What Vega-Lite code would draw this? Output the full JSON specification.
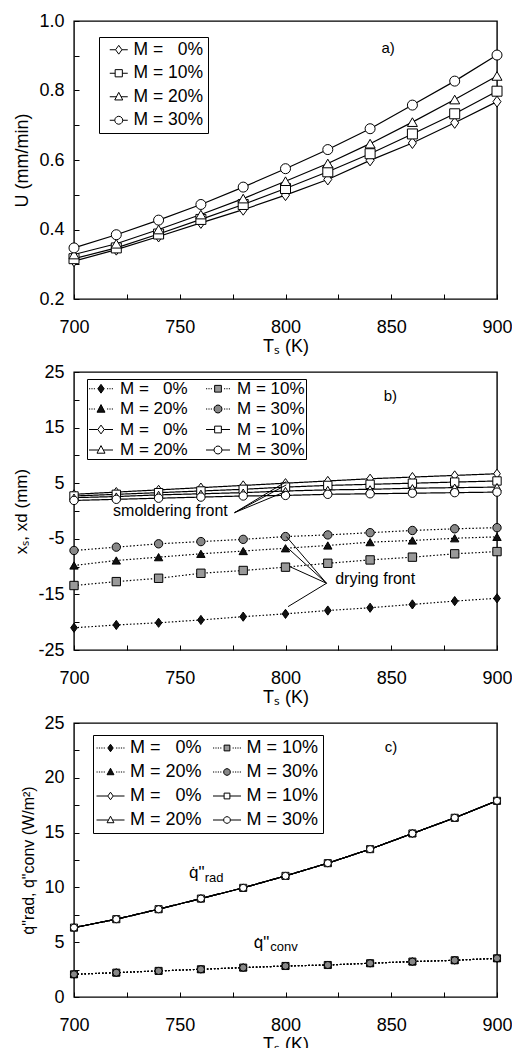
{
"$schema":"https://vega.github.io/schema/vega-lite/v6.json",
"background":"white",
"padding":{"left":12,"top":11,"right":0,"bottom":0},
"spacing":6,
"resolve":{"scale":{"shape":"independent","fill":"independent","strokeDash":"independent","x":"independent","y":"independent"},"legend":{"shape":"independent","fill":"independent","strokeDash":"independent"}},
"config":{
 "font":"Liberation Sans",
 "view":{"stroke":"black","strokeWidth":1.4},
 "axis":{"grid":false,"domain":false,"ticks":true,"tickColor":"black","tickWidth":1,"tickSize":-5,"labelColor":"black","titleColor":"black","labelFontSize":18,"titleFontSize":18,"titleFontWeight":"normal","labelOverlap":false,"labelFlush":false,"labelFont":"Liberation Sans","titleFont":"Liberation Sans"},
 "axisX":{"labelPadding":24,"titlePadding":1},
 "axisY":{"labelPadding":15,"titlePadding":7},
 "legend":{"labelColor":"black","labelFont":"Liberation Sans","strokeColor":"black","fillColor":"white","symbolOpacity":1,"symbolStrokeWidth":1}
},
"datasets":{
 "a":[
  {"T":700,"s":"0%","v":0.309},{"T":720,"s":"0%","v":0.342},{"T":740,"s":"0%","v":0.380},{"T":760,"s":"0%","v":0.419},{"T":780,"s":"0%","v":0.457},{"T":800,"s":"0%","v":0.499},{"T":820,"s":"0%","v":0.544},{"T":840,"s":"0%","v":0.599},{"T":860,"s":"0%","v":0.649},{"T":880,"s":"0%","v":0.707},{"T":900,"s":"0%","v":0.768},
  {"T":700,"s":"10%","v":0.316},{"T":720,"s":"10%","v":0.347},{"T":740,"s":"10%","v":0.387},{"T":760,"s":"10%","v":0.429},{"T":780,"s":"10%","v":0.472},{"T":800,"s":"10%","v":0.518},{"T":820,"s":"10%","v":0.566},{"T":840,"s":"10%","v":0.618},{"T":860,"s":"10%","v":0.675},{"T":880,"s":"10%","v":0.733},{"T":900,"s":"10%","v":0.798},
  {"T":700,"s":"20%","v":0.328},{"T":720,"s":"20%","v":0.359},{"T":740,"s":"20%","v":0.400},{"T":760,"s":"20%","v":0.443},{"T":780,"s":"20%","v":0.489},{"T":800,"s":"20%","v":0.539},{"T":820,"s":"20%","v":0.590},{"T":840,"s":"20%","v":0.647},{"T":860,"s":"20%","v":0.709},{"T":880,"s":"20%","v":0.774},{"T":900,"s":"20%","v":0.842},
  {"T":700,"s":"30%","v":0.347},{"T":720,"s":"30%","v":0.385},{"T":740,"s":"30%","v":0.427},{"T":760,"s":"30%","v":0.472},{"T":780,"s":"30%","v":0.522},{"T":800,"s":"30%","v":0.575},{"T":820,"s":"30%","v":0.630},{"T":840,"s":"30%","v":0.690},{"T":860,"s":"30%","v":0.758},{"T":880,"s":"30%","v":0.827},{"T":900,"s":"30%","v":0.902}
 ],
 "b":[
  {"T":700,"s":"d0","v":-21.0},{"T":720,"s":"d0","v":-20.5},{"T":740,"s":"d0","v":-20.1},{"T":760,"s":"d0","v":-19.6},{"T":780,"s":"d0","v":-19.0},{"T":800,"s":"d0","v":-18.5},{"T":820,"s":"d0","v":-17.9},{"T":840,"s":"d0","v":-17.4},{"T":860,"s":"d0","v":-16.8},{"T":880,"s":"d0","v":-16.2},{"T":900,"s":"d0","v":-15.7},
  {"T":700,"s":"d10","v":-13.4},{"T":720,"s":"d10","v":-12.7},{"T":740,"s":"d10","v":-12.1},{"T":760,"s":"d10","v":-11.2},{"T":780,"s":"d10","v":-10.7},{"T":800,"s":"d10","v":-10.1},{"T":820,"s":"d10","v":-9.4},{"T":840,"s":"d10","v":-8.8},{"T":860,"s":"d10","v":-8.3},{"T":880,"s":"d10","v":-7.7},{"T":900,"s":"d10","v":-7.3},
  {"T":700,"s":"d20","v":-9.8},{"T":720,"s":"d20","v":-8.9},{"T":740,"s":"d20","v":-8.3},{"T":760,"s":"d20","v":-7.7},{"T":780,"s":"d20","v":-7.2},{"T":800,"s":"d20","v":-6.7},{"T":820,"s":"d20","v":-6.2},{"T":840,"s":"d20","v":-5.6},{"T":860,"s":"d20","v":-5.3},{"T":880,"s":"d20","v":-4.9},{"T":900,"s":"d20","v":-4.65},
  {"T":700,"s":"d30","v":-7.1},{"T":720,"s":"d30","v":-6.5},{"T":740,"s":"d30","v":-5.9},{"T":760,"s":"d30","v":-5.5},{"T":780,"s":"d30","v":-5.1},{"T":800,"s":"d30","v":-4.6},{"T":820,"s":"d30","v":-4.3},{"T":840,"s":"d30","v":-3.9},{"T":860,"s":"d30","v":-3.5},{"T":880,"s":"d30","v":-3.2},{"T":900,"s":"d30","v":-3.0},
  {"T":700,"s":"s0","v":3.0},{"T":720,"s":"s0","v":3.4},{"T":740,"s":"s0","v":3.8},{"T":760,"s":"s0","v":4.2},{"T":780,"s":"s0","v":4.6},{"T":800,"s":"s0","v":5.0},{"T":820,"s":"s0","v":5.4},{"T":840,"s":"s0","v":5.8},{"T":860,"s":"s0","v":6.1},{"T":880,"s":"s0","v":6.4},{"T":900,"s":"s0","v":6.7},
  {"T":700,"s":"s10","v":2.7},{"T":720,"s":"s10","v":3.0},{"T":740,"s":"s10","v":3.3},{"T":760,"s":"s10","v":3.6},{"T":780,"s":"s10","v":3.9},{"T":800,"s":"s10","v":4.3},{"T":820,"s":"s10","v":4.6},{"T":840,"s":"s10","v":4.8},{"T":860,"s":"s10","v":5.0},{"T":880,"s":"s10","v":5.2},{"T":900,"s":"s10","v":5.4},
  {"T":700,"s":"s20","v":2.4},{"T":720,"s":"s20","v":2.6},{"T":740,"s":"s20","v":2.9},{"T":760,"s":"s20","v":3.1},{"T":780,"s":"s20","v":3.3},{"T":800,"s":"s20","v":3.6},{"T":820,"s":"s20","v":3.8},{"T":840,"s":"s20","v":3.9},{"T":860,"s":"s20","v":4.1},{"T":880,"s":"s20","v":4.2},{"T":900,"s":"s20","v":4.3},
  {"T":700,"s":"s30","v":1.9},{"T":720,"s":"s30","v":2.1},{"T":740,"s":"s30","v":2.3},{"T":760,"s":"s30","v":2.5},{"T":780,"s":"s30","v":2.7},{"T":800,"s":"s30","v":2.8},{"T":820,"s":"s30","v":3.0},{"T":840,"s":"s30","v":3.1},{"T":860,"s":"s30","v":3.2},{"T":880,"s":"s30","v":3.3},{"T":900,"s":"s30","v":3.4}
 ],
 "c":[
  {"T":700,"s":"d0","v":2.07},{"T":720,"s":"d0","v":2.22},{"T":740,"s":"d0","v":2.38},{"T":760,"s":"d0","v":2.53},{"T":780,"s":"d0","v":2.68},{"T":800,"s":"d0","v":2.83},{"T":820,"s":"d0","v":2.92},{"T":840,"s":"d0","v":3.08},{"T":860,"s":"d0","v":3.23},{"T":880,"s":"d0","v":3.35},{"T":900,"s":"d0","v":3.53},
  {"T":700,"s":"d10","v":2.07},{"T":720,"s":"d10","v":2.22},{"T":740,"s":"d10","v":2.38},{"T":760,"s":"d10","v":2.53},{"T":780,"s":"d10","v":2.68},{"T":800,"s":"d10","v":2.83},{"T":820,"s":"d10","v":2.92},{"T":840,"s":"d10","v":3.08},{"T":860,"s":"d10","v":3.23},{"T":880,"s":"d10","v":3.35},{"T":900,"s":"d10","v":3.53},
  {"T":700,"s":"d20","v":2.07},{"T":720,"s":"d20","v":2.22},{"T":740,"s":"d20","v":2.38},{"T":760,"s":"d20","v":2.53},{"T":780,"s":"d20","v":2.68},{"T":800,"s":"d20","v":2.83},{"T":820,"s":"d20","v":2.92},{"T":840,"s":"d20","v":3.08},{"T":860,"s":"d20","v":3.23},{"T":880,"s":"d20","v":3.35},{"T":900,"s":"d20","v":3.53},
  {"T":700,"s":"d30","v":2.07},{"T":720,"s":"d30","v":2.22},{"T":740,"s":"d30","v":2.38},{"T":760,"s":"d30","v":2.53},{"T":780,"s":"d30","v":2.68},{"T":800,"s":"d30","v":2.83},{"T":820,"s":"d30","v":2.92},{"T":840,"s":"d30","v":3.08},{"T":860,"s":"d30","v":3.23},{"T":880,"s":"d30","v":3.35},{"T":900,"s":"d30","v":3.53},
  {"T":700,"s":"s0","v":6.33},{"T":720,"s":"s0","v":7.10},{"T":740,"s":"s0","v":8.01},{"T":760,"s":"s0","v":8.98},{"T":780,"s":"s0","v":9.96},{"T":800,"s":"s0","v":11.05},{"T":820,"s":"s0","v":12.21},{"T":840,"s":"s0","v":13.49},{"T":860,"s":"s0","v":14.92},{"T":880,"s":"s0","v":16.35},{"T":900,"s":"s0","v":17.9},
  {"T":700,"s":"s10","v":6.33},{"T":720,"s":"s10","v":7.10},{"T":740,"s":"s10","v":8.01},{"T":760,"s":"s10","v":8.98},{"T":780,"s":"s10","v":9.96},{"T":800,"s":"s10","v":11.05},{"T":820,"s":"s10","v":12.21},{"T":840,"s":"s10","v":13.49},{"T":860,"s":"s10","v":14.92},{"T":880,"s":"s10","v":16.35},{"T":900,"s":"s10","v":17.9},
  {"T":700,"s":"s20","v":6.33},{"T":720,"s":"s20","v":7.10},{"T":740,"s":"s20","v":8.01},{"T":760,"s":"s20","v":8.98},{"T":780,"s":"s20","v":9.96},{"T":800,"s":"s20","v":11.05},{"T":820,"s":"s20","v":12.21},{"T":840,"s":"s20","v":13.49},{"T":860,"s":"s20","v":14.92},{"T":880,"s":"s20","v":16.35},{"T":900,"s":"s20","v":17.9},
  {"T":700,"s":"s30","v":6.33},{"T":720,"s":"s30","v":7.10},{"T":740,"s":"s30","v":8.01},{"T":760,"s":"s30","v":8.98},{"T":780,"s":"s30","v":9.96},{"T":800,"s":"s30","v":11.05},{"T":820,"s":"s30","v":12.21},{"T":840,"s":"s30","v":13.49},{"T":860,"s":"s30","v":14.92},{"T":880,"s":"s30","v":16.35},{"T":900,"s":"s30","v":17.9}
 ],
 "tagA":[{"T":848.5,"v":0.922,"label":"a)"}],
 "tagB":[{"T":849.6,"v":20.7,"label":"b)"}],
 "tagC":[{"T":849.9,"v":22.8,"label":"c)"}],
 "annB":[{"T":745.6,"v":0.0,"label":"smoldering front"},{"T":842.4,"v":-12.2,"label":"drying front"}],
 "arrB":[
  {"T":775.9,"v":-0.3,"T2":800.4,"v2":5.3},{"T":775.9,"v":-0.3,"T2":800.4,"v2":4.7},{"T":775.9,"v":-0.3,"T2":800.0,"v2":3.5},
  {"T":819.4,"v":-13.0,"T2":800.4,"v2":-4.6},{"T":819.4,"v":-13.0,"T2":801.2,"v2":-6.7},{"T":819.4,"v":-13.0,"T2":802.0,"v2":-10.0},{"T":819.4,"v":-13.0,"T2":801.2,"v2":-17.2}
 ],
 "annC":[
  {"T":754.4,"v":10.88,"label":"q\u0307\"","part":"main"},{"T":761.8,"v":10.52,"label":"rad","part":"sub"},
  {"T":785.0,"v":4.44,"label":"q\u0307\"","part":"main"},{"T":792.8,"v":4.20,"label":"conv","part":"sub"}
 ]
},
"vconcat":[
 {
  "width":423,"height":278,
  "resolve":{"scale":{"shape":"independent"},"legend":{"shape":"independent"}},
  "encoding":{
   "x":{"field":"T","type":"quantitative","scale":{"domain":[700,900],"nice":false,"zero":false},"axis":{"title":"T\u209b (K)","values":[700,725,750,775,800,825,850,875,900],"labelExpr":"datum.value % 50 == 0 ? '' + datum.value : ''"}},
   "y":{"field":"v","type":"quantitative","scale":{"domain":[0.2,1.0],"nice":false,"zero":false},"axis":{"title":"U (mm/min)","values":[0.2,0.3,0.4,0.5,0.6,0.7,0.8,0.9,1.0],"labelExpr":"round(datum.value*10) % 2 == 0 ? format(datum.value, '.1f') : ''"}}
  },
  "layer":[
   {"data":{"name":"a"},"mark":{"type":"line","color":"black","strokeWidth":1.2},"encoding":{"detail":{"field":"s"}}},
   {"data":{"name":"a"},"mark":{"type":"point","filled":true,"fill":"white","stroke":"black","strokeWidth":1,"size":100,"opacity":1},
    "encoding":{"shape":{"field":"s","type":"nominal","scale":{"domain":["30%","20%","10%","0%"],"range":["circle","triangle-up","square","M0,-1.1L0.8,0L0,1.1L-0.8,0Z"]},"legend":null}}},
   {"data":{"name":"a"},"mark":{"type":"point","filled":true,"fill":"white","stroke":"black","strokeWidth":1,"size":256,"opacity":0},
    "encoding":{"shape":{"field":"s","type":"nominal","scale":{"domain":["0%","10%","20%","30%"],"range":[
      "M-1.125,0H-0.4M0.4,0H1.125M0,-0.55L0.4,0L0,0.55L-0.4,0Z",
      "M-1.125,0H-0.45M0.45,0H1.125M-0.45,-0.45H0.45V0.45H-0.45Z",
      "M-1.125,0H-0.29M0.29,0H1.125M0,-0.55L0.5,0.4L-0.5,0.4Z",
      "M-1.125,0H-0.5M0.5,0H1.125M0.5,0L0.433,0.25L0.25,0.433L0,0.5L-0.25,0.433L-0.433,0.25L-0.5,0L-0.433,-0.25L-0.25,-0.433L0,-0.5L0.25,-0.433L0.433,-0.25Z"]},
     "legend":{"title":null,"orient":"none","legendX":25,"legendY":16,"padding":4,"rowPadding":4.5,"labelOffset":6,"symbolOffset":7,"labelFontSize":17.5,"symbolSize":256,"symbolOpacity":1,"symbolStrokeWidth":1,
      "labelExpr":"datum.value=='0%' ? 'M = \u20070%' : 'M = ' + datum.value"}}}},
   {"data":{"name":"tagA"},"mark":{"type":"text","fontSize":15,"align":"center","baseline":"middle","color":"black"},"encoding":{"text":{"field":"label"}}}
  ]
 },
 {
  "width":423,"height":278,
  "resolve":{"scale":{"shape":"independent","fill":"independent"},"legend":{"shape":"independent","fill":"independent"}},
  "encoding":{
   "x":{"field":"T","type":"quantitative","scale":{"domain":[700,900],"nice":false,"zero":false},"axis":{"title":"T\u209b (K)","values":[700,725,750,775,800,825,850,875,900],"labelExpr":"datum.value % 50 == 0 ? '' + datum.value : ''"}},
   "y":{"field":"v","type":"quantitative","scale":{"domain":[-25,25],"nice":false,"zero":false},"axis":{"title":"x\u209b, xd (mm)","titleFontSize":17,"values":[-25,-20,-15,-10,-5,0,5,10,15,20,25],"labelExpr":"(datum.value + 25) % 10 == 0 ? '' + datum.value : ''"}}
  },
  "layer":[
   {"data":{"name":"b"},"mark":{"type":"line","color":"black","strokeWidth":1.2},"encoding":{"detail":{"field":"s"},"strokeDash":{"field":"s","type":"nominal","scale":{"domain":["s0","s10","s20","s30","d0","d10","d20","d30"],"range":[[1,0],[1,0],[1,0],[1,0],[1.5,2],[1.5,2],[1.5,2],[1.5,2]]},"legend":null}}},
   {"data":{"name":"b"},"mark":{"type":"point","filled":true,"stroke":"black","strokeWidth":1,"size":70,"opacity":1},
    "encoding":{
     "fill":{"field":"s","type":"nominal","scale":{"domain":["d30","d20","d10","d0","s30","s20","s10","s0"],"range":["#888888","#111111","#999999","#111111","white","white","white","white"]},"legend":null},
     "shape":{"field":"s","type":"nominal","scale":{"domain":["d0","d10","d20","d30","s0","s10","s20","s30"],"range":["M0,-1.1L0.8,0L0,1.1L-0.8,0Z","square","triangle-up","circle","M0,-1.1L0.8,0L0,1.1L-0.8,0Z","square","triangle-up","circle"]},"legend":null}}},
   {"data":{"name":"b"},"mark":{"type":"point","filled":true,"stroke":"black","strokeWidth":1,"size":256,"opacity":0},
    "encoding":{
     "fill":{"field":"s","type":"nominal","scale":{"domain":["d0","d20","s0","s20","d10","d30","s10","s30"],"range":["#111111","#111111","white","white","#999999","#888888","white","white"]}},
     "shape":{"field":"s","type":"nominal","scale":{"domain":["d0","d20","s0","s20","d10","d30","s10","s30"],"range":[
       "M-1.5,0H-1.35M-1.2,0H-1.05M-0.9,0H-0.75M0.75,0H0.9M1.05,0H1.2M1.35,0H1.5M0,-0.55L0.4,0L0,0.55L-0.4,0Z",
       "M-1.5,0H-1.35M-1.2,0H-1.05M-0.9,0H-0.75M0.75,0H0.9M1.05,0H1.2M1.35,0H1.5M0,-0.55L0.5,0.4L-0.5,0.4Z",
       "M-1.5,0H-0.4M0.4,0H1.5M0,-0.55L0.4,0L0,0.55L-0.4,0Z",
       "M-1.5,0H-0.29M0.29,0H1.5M0,-0.55L0.5,0.4L-0.5,0.4Z",
       "M-1.5,0H-1.35M-1.2,0H-1.05M-0.9,0H-0.75M0.75,0H0.9M1.05,0H1.2M1.35,0H1.5M-0.42,-0.42H0.42V0.42H-0.42Z",
       "M-1.5,0H-1.35M-1.2,0H-1.05M-0.9,0H-0.75M0.75,0H0.9M1.05,0H1.2M1.35,0H1.5M0.5,0L0.433,0.25L0.25,0.433L0,0.5L-0.25,0.433L-0.433,0.25L-0.5,0L-0.433,-0.25L-0.25,-0.433L0,-0.5L0.25,-0.433L0.433,-0.25Z",
       "M-1.5,0H-0.42M0.42,0H1.5M-0.42,-0.42H0.42V0.42H-0.42Z",
       "M-1.5,0H-0.5M0.5,0H1.5M0.5,0L0.433,0.25L0.25,0.433L0,0.5L-0.25,0.433L-0.433,0.25L-0.5,0L-0.433,-0.25L-0.25,-0.433L0,-0.5L0.25,-0.433L0.433,-0.25Z"]},
     "legend":{"title":null,"orient":"none","legendX":13,"legendY":7,"columns":2,"padding":1,"rowPadding":2.5,"columnPadding":16,"labelOffset":10.5,"symbolOffset":4.5,"labelFontSize":17,"symbolSize":256,"symbolOpacity":1,"symbolStrokeWidth":1,
      "labelExpr":"'M = ' + (substring(datum.value,1)=='0' ? '\u20070%' : substring(datum.value,1) + '%')"}}}},
   {"data":{"name":"arrB"},"mark":{"type":"rule","color":"black","strokeWidth":1},"encoding":{"x2":{"field":"T2"},"y2":{"field":"v2"}}},
   {"data":{"name":"annB"},"mark":{"type":"text","fontSize":16,"align":"center","baseline":"middle","color":"black"},"encoding":{"text":{"field":"label"}}},
   {"data":{"name":"tagB"},"mark":{"type":"text","fontSize":15,"align":"center","baseline":"middle","color":"black"},"encoding":{"text":{"field":"label"}}}
  ]
 },
 {
  "width":423,"height":274,
  "resolve":{"scale":{"shape":"independent","fill":"independent"},"legend":{"shape":"independent","fill":"independent"}},
  "encoding":{
   "x":{"field":"T","type":"quantitative","scale":{"domain":[700,900],"nice":false,"zero":false},"axis":{"title":"T\u209b (K)","values":[700,725,750,775,800,825,850,875,900],"labelExpr":"datum.value % 50 == 0 ? '' + datum.value : ''"}},
   "y":{"field":"v","type":"quantitative","scale":{"domain":[0,25],"nice":false,"zero":false},"axis":{"title":"q\u0307\"rad, q\u0307\"conv (W/m\u00b2)","titleFontSize":16,"values":[0,2.5,5,7.5,10,12.5,15,17.5,20,22.5,25],"labelExpr":"datum.value % 5 == 0 ? '' + datum.value : ''"}}
  },
  "layer":[
   {"data":{"name":"c"},"mark":{"type":"line","color":"black","strokeWidth":1.2},"encoding":{"detail":{"field":"s"},"strokeDash":{"field":"s","type":"nominal","scale":{"domain":["s0","s10","s20","s30","d0","d10","d20","d30"],"range":[[1,0],[1,0],[1,0],[1,0],[1.5,2],[1.5,2],[1.5,2],[1.5,2]]},"legend":null}}},
   {"data":{"name":"c"},"mark":{"type":"point","filled":true,"stroke":"black","strokeWidth":1,"size":50,"opacity":1},
    "encoding":{
     "fill":{"field":"s","type":"nominal","scale":{"domain":["d30","d20","d10","d0","s30","s20","s10","s0"],"range":["#888888","#111111","#999999","#111111","white","white","white","white"]},"legend":null},
     "shape":{"field":"s","type":"nominal","scale":{"domain":["d0","d10","d20","d30","s0","s10","s20","s30"],"range":["M0,-1.1L0.8,0L0,1.1L-0.8,0Z","square","triangle-up","circle","M0,-1.1L0.8,0L0,1.1L-0.8,0Z","square","triangle-up","circle"]},"legend":null}}},
   {"data":{"name":"c"},"mark":{"type":"point","filled":true,"stroke":"black","strokeWidth":1,"size":256,"opacity":0},
    "encoding":{
     "fill":{"field":"s","type":"nominal","scale":{"domain":["d0","d20","s0","s20","d10","d30","s10","s30"],"range":["#111111","#111111","white","white","#999999","#888888","white","white"]}},
     "shape":{"field":"s","type":"nominal","scale":{"domain":["d0","d20","s0","s20","d10","d30","s10","s30"],"range":[
       "M-1.75,0H-1.6M-1.45,0H-1.3M-1.15,0H-1M-0.85,0H-0.7M0.7,0H0.85M1,0H1.15M1.3,0H1.45M1.6,0H1.75M0,-0.47L0.34,0L0,0.47L-0.34,0Z",
       "M-1.75,0H-1.6M-1.45,0H-1.3M-1.15,0H-1M-0.85,0H-0.7M0.7,0H0.85M1,0H1.15M1.3,0H1.45M1.6,0H1.75M0,-0.47L0.43,0.34L-0.43,0.34Z",
       "M-1.75,0H-0.34M0.34,0H1.75M0,-0.47L0.34,0L0,0.47L-0.34,0Z",
       "M-1.75,0H-0.25M0.25,0H1.75M0,-0.47L0.43,0.34L-0.43,0.34Z",
       "M-1.75,0H-1.6M-1.45,0H-1.3M-1.15,0H-1M-0.85,0H-0.7M0.7,0H0.85M1,0H1.15M1.3,0H1.45M1.6,0H1.75M-0.36,-0.36H0.36V0.36H-0.36Z",
       "M-1.75,0H-1.6M-1.45,0H-1.3M-1.15,0H-1M-0.85,0H-0.7M0.7,0H0.85M1,0H1.15M1.3,0H1.45M1.6,0H1.75M0.42,0L0.364,0.21L0.21,0.364L0,0.42L-0.21,0.364L-0.364,0.21L-0.42,0L-0.364,-0.21L-0.21,-0.364L0,-0.42L0.21,-0.364L0.364,-0.21Z",
       "M-1.75,0H-0.36M0.36,0H1.75M-0.36,-0.36H0.36V0.36H-0.36Z",
       "M-1.75,0H-0.42M0.42,0H1.75M0.42,0L0.364,0.21L0.21,0.364L0,0.42L-0.21,0.364L-0.364,0.21L-0.42,0L-0.364,-0.21L-0.21,-0.364L0,-0.42L0.21,-0.364L0.364,-0.21Z"]},
     "legend":{"title":null,"orient":"none","legendX":19,"legendY":12,"columns":2,"padding":4,"rowPadding":6,"columnPadding":8.5,"labelOffset":10.5,"symbolOffset":4.5,"labelFontSize":18,"symbolSize":256,"symbolOpacity":1,"symbolStrokeWidth":1,
      "labelExpr":"'M = ' + (substring(datum.value,1)=='0' ? '\u20070%' : substring(datum.value,1) + '%')"}}}},
   {"data":{"name":"annC"},"transform":[{"filter":"datum.part == 'main'"}],"mark":{"type":"text","fontSize":17,"align":"left","baseline":"alphabetic","color":"black"},"encoding":{"text":{"field":"label"}}},
   {"data":{"name":"annC"},"transform":[{"filter":"datum.part == 'sub'"}],"mark":{"type":"text","fontSize":13,"align":"left","baseline":"alphabetic","color":"black"},"encoding":{"text":{"field":"label"}}},
   {"data":{"name":"tagC"},"mark":{"type":"text","fontSize":15,"align":"center","baseline":"middle","color":"black"},"encoding":{"text":{"field":"label"}}}
  ]
 }
]
}
